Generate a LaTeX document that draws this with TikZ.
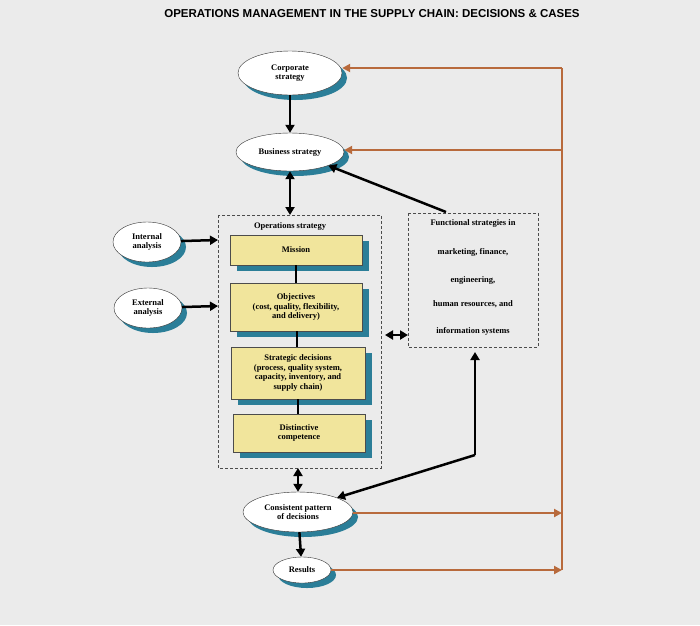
\documentclass[tikz,border=0pt]{standalone}
\usepackage{fontspec}
\setmainfont{Liberation Serif}
\newfontfamily\titlefont{Liberation Sans}
\usetikzlibrary{arrows.meta,shapes.geometric,shadows}
\definecolor{teal2}{HTML}{2B7E98}
\definecolor{yel}{HTML}{F1E59C}
\definecolor{org}{HTML}{B86A3C}
\definecolor{bg}{HTML}{EBEBEB}
\tikzset{
 ell/.style={ellipse,draw=black!80,fill=white,inner sep=0pt,align=center,font=\bfseries\fontsize{8.5}{9.5}\selectfont,
   drop shadow={shadow xshift=5pt,shadow yshift=-5pt,fill=teal2,opacity=1}},
 blk/.style={draw=black!70,fill=yel,align=center,inner sep=1pt,font=\bfseries\fontsize{8.5}{9.5}\selectfont,minimum width=132pt,
   drop shadow={shadow xshift=7pt,shadow yshift=-6pt,fill=teal2,opacity=1}},
 dbox/.style={draw=black!70,densely dashed,thick},
 arr/.style={line width=2.5pt,-{Triangle[length=8pt,width=9pt]}},
 darr/.style={line width=2.5pt,{Triangle[length=8pt,width=9pt]}-{Triangle[length=8pt,width=9pt]}},
 oarr/.style={draw=org,line width=2pt,-{Triangle[length=8pt,width=8pt]}},
 txt/.style={font=\bfseries\fontsize{8.5}{9.5}\selectfont}
}
\begin{document}
\begin{tikzpicture}[x=1pt,y=-1pt]
\fill[bg] (0,0) rectangle (700,625);
\useasboundingbox (0,0) rectangle (700,625);
\node[font=\titlefont\bfseries\fontsize{11.5}{13}\selectfont] (title) at (372,14) {OPERATIONS MANAGEMENT IN THE SUPPLY CHAIN: DECISIONS \& CASES};
% ellipses
\node[ell,minimum width=104pt,minimum height=44pt] (corp) at (290,73) {Corporate\\strategy};
\node[ell,minimum width=108pt,minimum height=38pt] (bus) at (290,152) {Business strategy};
\node[ell,minimum width=68pt,minimum height=40pt] (int) at (147,242) {Internal\\analysis};
\node[ell,minimum width=68pt,minimum height=40pt] (ext) at (148,308) {External\\analysis};
\node[ell,minimum width=110pt,minimum height=40pt] (cons) at (298,512) {Consistent pattern\\of decisions};
\node[ell,minimum width=58pt,minimum height=26pt] (res) at (302,570) {Results};
% operations box
\draw[dbox] (218,215) rectangle (381,468);
\coordinate (opstop) at (290,215);
\coordinate (opsbot) at (298,468);
\coordinate (opsl1) at (218,240);
\coordinate (opsl2) at (218,306);
\node[txt] (opst) at (290,226) {Operations strategy};
\node[blk,minimum height=30pt] (mis) at (296,250) {Mission};
\node[blk,minimum height=48pt] (obj) at (296,307) {Objectives\\(cost, quality, flexibility,\\and delivery)};
\node[blk,minimum height=52pt,minimum width=134pt] (str) at (298,373) {Strategic decisions\\(process, quality system,\\capacity, inventory, and\\supply chain)};
\node[blk,minimum height=38pt] (dis) at (299,433) {Distinctive\\competence};
\draw[line width=2.5pt] (296,265) -- (296,283);
\draw[line width=2.5pt] (297,331) -- (297,347);
\draw[line width=2.5pt] (298,399) -- (298,414);
% functional box
\draw[dbox] (408,213) rectangle (538,347);
\node[txt] (f1) at (473,223) {Functional strategies in};
\node[txt] (f2) at (473,252) {marketing, finance,};
\node[txt] (f3) at (473,280) {engineering,};
\node[txt] (f4) at (473,304) {human resources, and};
\node[txt] (f5) at (473,331) {information systems};
\coordinate (ftop) at (446,212);
\coordinate (fl) at (408,335);
\coordinate (fr) at (385,335);
\coordinate (fbot) at (475,352);
\coordinate (bend) at (475,455);
% black connectors
\draw[arr] (corp) -- (bus);
\draw[darr] (bus) -- (opstop);
\draw[arr] (int) -- (opsl1);
\draw[arr] (ext) -- (opsl2);
\draw[arr] (ftop) -- (bus.south east);
\draw[darr] (fr) -- (fl);
\draw[darr] (opsbot) -- (cons);
\draw[arr] (bend) -- (fbot);
\draw[arr] (bend) -- (cons.north east);
\draw[arr] (cons) -- (res);
% orange feedback
\coordinate (ot) at (562,68);
\coordinate (ob) at (562,570);
\coordinate (om) at (562,150);
\coordinate (oc) at (562,513);
\draw[org,line width=2pt] (ot) -- (ob);
\draw[oarr] (ot) -- (corp.east |- ot);
\draw[oarr] (om) -- (bus.east |- om);
\draw[oarr] (cons.east |- oc) -- (oc);
\draw[oarr] (res.east) -- (ob);
\end{tikzpicture}
\end{document}
